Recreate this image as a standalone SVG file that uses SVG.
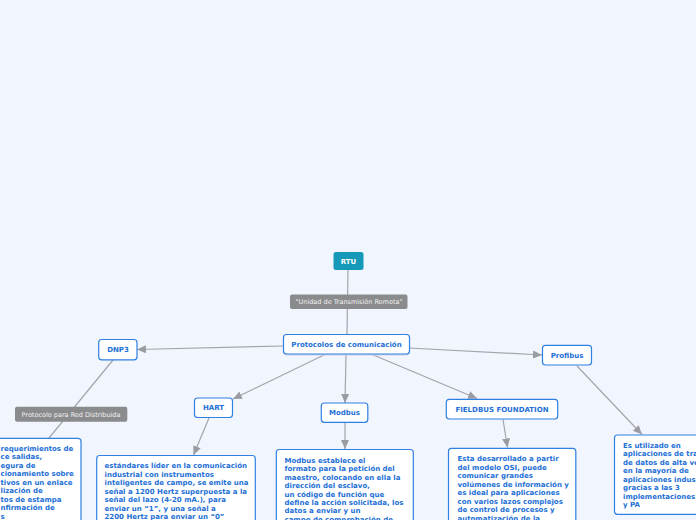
<svg xmlns="http://www.w3.org/2000/svg" width="696" height="520" viewBox="0 0 696 520">
<defs>
<style>
.bg{fill:#f1f5fd}
.node rect{fill:#ffffff;stroke:#2f80e3;stroke-width:1.2}
.t{font-family:"DejaVu Sans",Verdana,sans-serif;font-weight:bold;font-size:7px;fill:#1d6fd6}
.c{text-anchor:middle}
.lbl rect{fill:#8a8b8d}
.lt{font-family:"DejaVu Sans",Verdana,sans-serif;font-size:6.5px;fill:#f2f2f2;text-anchor:middle}
.conn line{stroke:#a3a5ab;stroke-width:1.2;fill:none}
</style>
<marker id="ah" markerUnits="userSpaceOnUse" markerWidth="10" markerHeight="10" viewBox="0 0 10 10" refX="9" refY="5" orient="auto">
<path d="M0,1 L9,5 L0,9 z" fill="#9a9ca2"/>
</marker>
</defs>
<rect class="bg" x="0" y="0" width="696" height="520"/>

<g id="connectors" class="conn">
<line x1="348" y1="270" x2="347" y2="334"/>
<line x1="284" y1="346" x2="137" y2="349.5" marker-end="url(#ah)"/>
<line x1="113" y1="360" x2="49" y2="438"/>
<line x1="326" y1="354" x2="233" y2="399" marker-end="url(#ah)"/>
<line x1="209" y1="418" x2="193.5" y2="455" marker-end="url(#ah)"/>
<line x1="346" y1="354" x2="345" y2="403" marker-end="url(#ah)"/>
<line x1="345" y1="422.5" x2="345" y2="449" marker-end="url(#ah)"/>
<line x1="371" y1="354" x2="477" y2="398.5" marker-end="url(#ah)"/>
<line x1="503" y1="419.5" x2="507.5" y2="447.5" marker-end="url(#ah)"/>
<line x1="409" y1="348" x2="542" y2="355" marker-end="url(#ah)"/>
<line x1="577" y1="366" x2="642" y2="434.5" marker-end="url(#ah)"/>
</g>

<g id="rtu">
<rect x="333.5" y="252" width="30" height="18" rx="2.5" fill="#1698b8"/>
<text class="t c" x="348.5" y="263.5" style="fill:#ffffff">RTU</text>
</g>

<g id="label-unidad" class="lbl">
<rect x="290" y="294.5" width="117.5" height="14.5" rx="2"/>
<text class="lt" x="349" y="304">"Unidad de Transmisión Remota"</text>
</g>

<g id="protocolos" class="node">
<rect x="283.5" y="335.5" width="126" height="20" rx="3" style="stroke:none;fill:#cdd6e6"/>
<rect x="283.5" y="334.5" width="126" height="19.5" rx="3"/>
<text class="t c" x="346.5" y="346.5">Protocolos de comunicación</text>
</g>

<g id="dnp3" class="node">
<rect x="98.7" y="339.5" width="38.3" height="20.3" rx="3"/>
<text class="t c" x="118" y="352">DNP3</text>
</g>

<g id="label-red" class="lbl">
<rect x="15" y="406.7" width="112.3" height="15" rx="2"/>
<text class="lt" x="71" y="416.5">Protocolo para Red Distribuida</text>
</g>

<g id="dnp3-desc" class="node">
<rect x="-20" y="438.3" width="101" height="100" rx="3"/>
<text class="t">
<tspan x="0.5" y="450.7">requerimientos de</tspan>
<tspan x="0.5" y="459.2">ce salidas,</tspan>
<tspan x="0.5" y="467.7">egura de</tspan>
<tspan x="0.5" y="476.2">cionamiento sobre</tspan>
<tspan x="0.5" y="484.7">tivos en un enlace</tspan>
<tspan x="0.5" y="493.2">lización de</tspan>
<tspan x="0.5" y="501.7">tos de estampa</tspan>
<tspan x="0.5" y="510.2">nfirmación de</tspan>
<tspan x="0.5" y="518.7">s</tspan>
</text>
</g>

<g id="hart" class="node">
<rect x="194.5" y="398" width="38" height="19.5" rx="3"/>
<text class="t c" x="213.5" y="410">HART</text>
</g>

<g id="hart-desc" class="node">
<rect x="96.7" y="455.5" width="158.6" height="80" rx="3"/>
<text class="t">
<tspan x="104.5" y="468.2">estándares líder en la comunicación</tspan>
<tspan x="104.5" y="476.6">industrial con instrumentos</tspan>
<tspan x="104.5" y="485.2">inteligentes de campo, se emite una</tspan>
<tspan x="104.5" y="493.6">señal a 1200 Hertz superpuesta a la</tspan>
<tspan x="104.5" y="502.2">señal del lazo (4-20 mA.), para</tspan>
<tspan x="104.5" y="510.6">enviar un “1”, y una señal a</tspan>
<tspan x="104.5" y="519.1">2200 Hertz para enviar un “0”</tspan>
</text>
</g>

<g id="modbus" class="node">
<rect x="321.3" y="403" width="46.5" height="19.3" rx="3"/>
<text class="t c" x="344.5" y="415">Modbus</text>
</g>

<g id="modbus-desc" class="node">
<rect x="276.3" y="449.5" width="137" height="90" rx="3"/>
<text class="t">
<tspan x="284.5" y="462.7">Modbus establece el</tspan>
<tspan x="284.5" y="471.1">formato para la petición del</tspan>
<tspan x="284.5" y="479.6">maestro, colocando en ella la</tspan>
<tspan x="284.5" y="488">dirección del esclavo,</tspan>
<tspan x="284.5" y="496.5">un código de función que</tspan>
<tspan x="284.5" y="504.9">define la acción solicitada, los</tspan>
<tspan x="284.5" y="513.4">datos a enviar y un</tspan>
<tspan x="284.5" y="521.8">campo de comprobación de</tspan>
</text>
</g>

<g id="fieldbus" class="node">
<rect x="446.3" y="399.3" width="111.4" height="19.7" rx="3"/>
<text class="t c" x="502" y="411.5">FIELDBUS FOUNDATION</text>
</g>

<g id="fieldbus-desc" class="node">
<rect x="448.5" y="448.3" width="127.3" height="90" rx="3"/>
<text class="t">
<tspan x="457.5" y="461.3">Esta desarrollado a partir</tspan>
<tspan x="457.5" y="469.8">del modelo OSI, puede</tspan>
<tspan x="457.5" y="478.3">comunicar grandes</tspan>
<tspan x="457.5" y="486.8">volúmenes de información y</tspan>
<tspan x="457.5" y="495.3">es ideal para aplicaciones</tspan>
<tspan x="457.5" y="503.8">con varios lazos complejos</tspan>
<tspan x="457.5" y="512.3">de control de procesos y</tspan>
<tspan x="457.5" y="520.8">automatización de la</tspan>
</text>
</g>

<g id="profibus" class="node">
<rect x="542.5" y="345.3" width="49" height="19.7" rx="3"/>
<text class="t c" x="567" y="357.5">Profibus</text>
</g>

<g id="profibus-desc" class="node">
<rect x="614.5" y="435" width="100" height="79.3" rx="3"/>
<text class="t">
<tspan x="623" y="448">Es utilizado en</tspan>
<tspan x="623" y="456.4">aplicaciones de tra</tspan>
<tspan x="623" y="464.8">de datos de alta ve</tspan>
<tspan x="623" y="473.2">en la mayoría de</tspan>
<tspan x="623" y="481.6">aplicaciones indust</tspan>
<tspan x="623" y="490.2">gracias a las 3</tspan>
<tspan x="623" y="498.8">implementaciones:</tspan>
<tspan x="623" y="507.4">y PA</tspan>
</text>
</g>
</svg>
